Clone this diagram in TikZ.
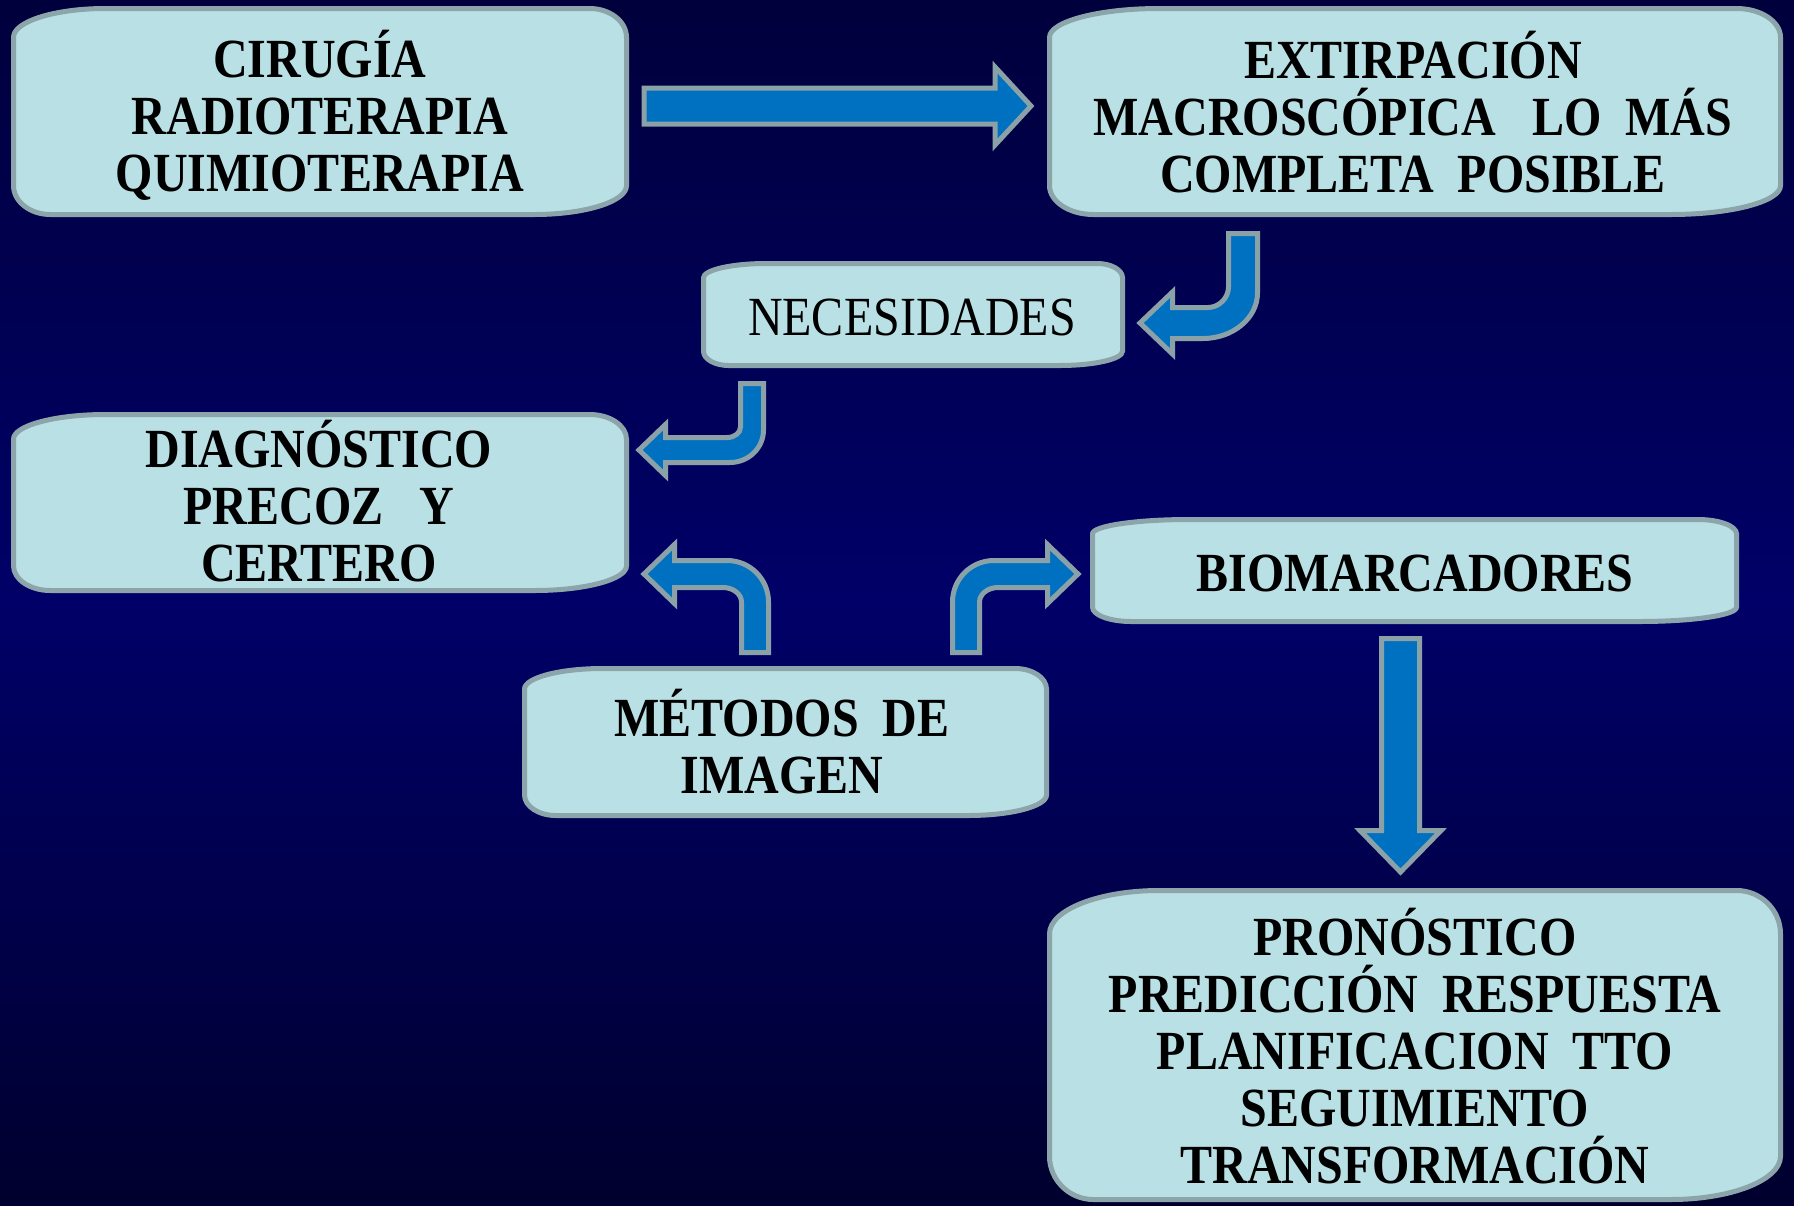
\documentclass[tikz,border=0pt]{standalone}
\usepackage{fontspec}
\setmainfont{Liberation Serif}
\usepackage{graphicx}
\definecolor{boxfill}{HTML}{B9E0E4}
\definecolor{boxline}{HTML}{8CA5AA}
\definecolor{arrfill}{HTML}{0070C0}
\definecolor{arrline}{HTML}{8AA2A7}
\definecolor{bgtop}{HTML}{00003C}
\definecolor{bgmid}{HTML}{000068}
\definecolor{bgbot}{HTML}{00002E}
\newcommand\boxfont{\fontsize{24}{28.5}\selectfont\bfseries\lineskiplimit=-40pt\relax}
\newcommand\plainboxfont{\fontsize{24}{28.5}\selectfont\lineskiplimit=-40pt\relax}
\newcommand\tall[1]{\scalebox{1}[1.15]{#1}}
\newcommand\plaque[4]{%
  \pgfmathsetmacro\pa{#1+2.5}\pgfmathsetmacro\pb{#2+2.5}%
  \pgfmathsetmacro\pc{#3-2.5}\pgfmathsetmacro\pd{#4-2.5}%
  \pgfmathsetmacro\pL{0.15*(\pc-\pa)}\pgfmathsetmacro\pS{0.06*(\pc-\pa)}\pgfmathsetmacro\pV{0.14*(\pd-\pb)}%
  \path[plaquestyle] (\pa,\pb+\pV) .. controls (\pa,\pb+0.45*\pV) and (\pa+0.45*\pL,\pb) .. (\pa+\pL,\pb)
    -- (\pc-\pS,\pb) .. controls (\pc-0.45*\pS,\pb) and (\pc,\pb+0.45*\pV) .. (\pc,\pb+\pV)
    -- (\pc,\pd-\pV) .. controls (\pc,\pd-0.45*\pV) and (\pc-0.45*\pL,\pd) .. (\pc-\pL,\pd)
    -- (\pa+\pS,\pd) .. controls (\pa+0.45*\pS,\pd) and (\pa,\pd-0.45*\pV) .. (\pa,\pd-\pV) -- cycle;}
\tikzset{
  plaquestyle/.style={fill=boxfill, draw=boxline, line width=2.5pt},
  blockarrow/.style={fill=arrfill, draw=arrline, line width=2.5pt, line join=miter},
  lbl/.style={align=center, inner sep=0pt, outer sep=0pt, text=black, font=\boxfont},
  lblplain/.style={align=center, inner sep=0pt, outer sep=0pt, text=black, font=\plainboxfont}
}
\begin{document}
\begin{tikzpicture}[x=0.5pt, y=-0.5pt]
\useasboundingbox (0,0) rectangle (1794,1205);
\shade[top color=bgtop, bottom color=bgbot, middle color=bgmid] (0,0) rectangle (1794,1205);

% boxes
\plaque{11}{6}{629}{217}
\plaque{1047}{6}{1783}{217}
\plaque{701}{261}{1125}{368}
\plaque{11}{412}{629}{593}
\plaque{522}{666}{1049}{818}
\plaque{1090}{517}{1739}{624}
\plaque{1047}{888}{1783}{1202}

% block arrows
\path[blockarrow] (644,88) -- (995,88) -- (995,67) -- (1031,106) -- (995,145) -- (995,124) -- (644,124) -- cycle;
\path[blockarrow] (1228.5,233.5) -- (1257.5,233.5) -- (1257.5,293)
  .. controls (1257.5,318) and (1233,338.5) .. (1203,338.5)
  -- (1172.5,338.5) -- (1172.5,354) -- (1140,323) -- (1172.5,292) -- (1172.5,307.5) -- (1208,307.5)
  .. controls (1219,307.5) and (1228.5,298) .. (1228.5,287) -- cycle;
\path[blockarrow] (740.5,383.5) -- (763.5,383.5) -- (763.5,430)
  .. controls (763.5,448) and (748.5,462.5) .. (730,462.5)
  -- (665.5,462.5) -- (665.5,475.5) -- (639,450) -- (665.5,424.5) -- (665.5,437.5) -- (727,437.5)
  .. controls (734.5,437.5) and (740.5,433) .. (740.5,427) -- cycle;
\path[blockarrow] (741.5,652.5) -- (741.5,602)
  .. controls (741.5,594) and (733,587.5) .. (723,587.5)
  -- (674.5,587.5) -- (674.5,603.5) -- (644,574) -- (674.5,544.5) -- (674.5,560.5) -- (727,560.5)
  .. controls (750,560.5) and (768.5,579) .. (768.5,602) -- (768.5,652.5) -- cycle;
\path[blockarrow] (979.5,652.5) -- (979.5,602)
  .. controls (979.5,594) and (988,587.5) .. (998,587.5)
  -- (1047.5,587.5) -- (1047.5,603.5) -- (1078,574) -- (1047.5,544.5) -- (1047.5,560.5) -- (994,560.5)
  .. controls (971,560.5) and (952.5,579) .. (952.5,602) -- (952.5,652.5) -- cycle;
\path[blockarrow] (1381.5,638.5) -- (1419.5,638.5) -- (1419.5,830.5) -- (1441,830.5) -- (1400.5,872) -- (1360,830.5) -- (1381.5,830.5) -- cycle;

% texts
\node[lbl] (trat) at (320,115) {\tall{CIRUGÍA}\\\tall{RADIOTERAPIA}\\\tall{QUIMIOTERAPIA}};
\node[lbl] (extir) at (1413,112) {\tall{EXTIRPACIÓN}\\\tall{MACROSCÓPICA\ \ \ LO\ \ MÁS}\\\tall{COMPLETA\ \ POSIBLE}};
\node[lblplain] (nec) at (912,317) {\tall{NECESIDADES}};
\node[lbl] (diag) at (319,501) {\tall{DIAGNÓSTICO}\\\tall{PRECOZ\ \ \ Y}\\\tall{CERTERO}};
\node[lbl] (img) at (782,741.5) {\tall{MÉTODOS\ \ DE}\\\tall{IMAGEN}};
\node[lbl] (bio) at (1415,573) {\tall{BIOMARCADORES}};
\node[lbl] (pron) at (1415,1046) {\tall{PRONÓSTICO}\\\tall{PREDICCIÓN\ \ RESPUESTA}\\\tall{PLANIFICACION\ \ TTO}\\\tall{SEGUIMIENTO}\\\tall{TRANSFORMACIÓN}};
\end{tikzpicture}
\end{document}
